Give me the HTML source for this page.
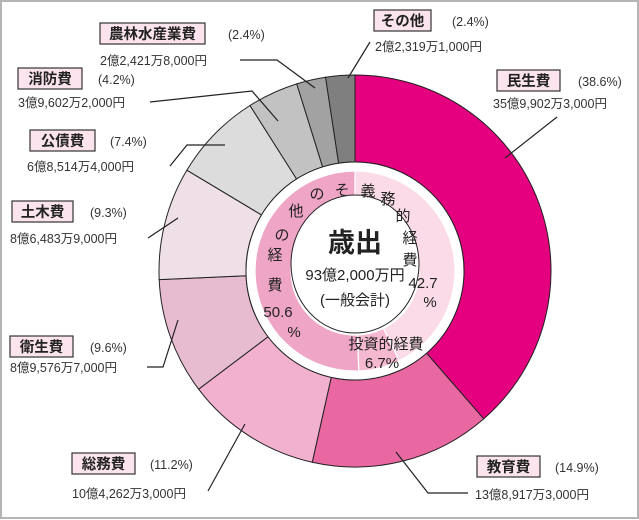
<!DOCTYPE html>
<html><head><meta charset="utf-8"><style>
html,body{margin:0;padding:0;background:#fff}
svg{display:block;font-family:"Liberation Sans","Noto Sans CJK JP",sans-serif}
</style></head><body>
<svg id="chart" width="639" height="520" viewBox="0 0 639 520">
<rect x="1" y="1" width="637" height="517" fill="#fff" stroke="#b5b5b5" stroke-width="2"/>
<g id="outer"></g>
<circle cx="355" cy="271" r="109" fill="#fff" stroke="#222" stroke-width="1"/>
<g id="inner"></g>
<ellipse cx="355" cy="264" rx="64" ry="69" fill="#fff" stroke="#222" stroke-width="1"/>
<g id="leaders" stroke="#222" stroke-width="1.2" fill="none"></g>
<g id="labels"></g>
<g text-anchor="middle">
<text x="355" y="252" font-size="27" font-weight="bold" fill="#222">歳出</text>
<text x="355" y="280" font-size="15" fill="#222">93億2,000万円</text>
<text x="355" y="305" font-size="15" fill="#222">(一般会計)</text>
</g>
<g font-size="15" fill="#222" text-anchor="middle">
<text x="368" y="196">義</text><text x="388" y="204">務</text><text x="403" y="221">的</text><text x="410" y="243">経</text><text x="410" y="265">費</text><text x="423" y="288">42.7</text><text x="430" y="307">%</text>
<text x="342" y="195">そ</text><text x="317" y="199">の</text><text x="296" y="216">他</text><text x="282" y="240">の</text><text x="275" y="260">経</text><text x="275" y="290">費</text><text x="278" y="317">50.6</text><text x="294" y="337">%</text>
<text x="386" y="349">投資的経費</text><text x="382" y="368">6.7%</text>
</g>
<script>
const categories=["民生費","教育費","総務費","衛生費","土木費","公債費","消防費","農林水産業費","その他"];
const percents=[38.6,14.9,11.2,9.6,9.3,7.4,4.2,2.4,2.4];
const amounts=["35億9,902万3,000円","13億8,917万3,000円","10億4,262万3,000円","8億9,576万7,000円","8億6,483万9,000円","6億8,514万4,000円","3億9,602万2,000円","2億2,421万8,000円","2億2,319万1,000円"];
const innerCats=["義務的経費","投資的経費","その他の経費"];
const innerPercents=[42.7,6.7,50.6];
const colors=["#e4007f","#ea68a2","#f2b1cf","#e7bbd0","#efdfe6","#dcdcdc","#c2c2c2","#a2a2a2","#7f7f7f"];
const innerColors=["#fadbe7","#f4b8d1","#efa5c5"];
const layout=[
 [497,70,63,578,493,108,[[557,117],[505,158]]],
 [477,456,63,555,475,499,[[468,493],[428,493],[396,452]]],
 [72,453,63,150,72,498,[[208,491],[245,424]]],
 [10,336,63,90,10,372,[[147,367],[163,367],[178,320]]],
 [12,201,61,90,10,243,[[148,238],[178,218]]],
 [30,130,65,110,27,171,[[170,166],[187,145],[225,145]]],
 [18,68,64,98,18,107,[[150,102],[252,91],[278,121]]],
 [100,23,105,228,100,65,[[240,60],[277,60],[315,88]]],
 [374,10,57,452,375,51,[[370,42],[348,78]]]
];
const NS="http://www.w3.org/2000/svg";
const cx=355,cy=271;
function polar(r,a){return [cx+r*Math.sin(a),cy-r*Math.cos(a)];}
function arcPath(r0,r1,a0,a1){
 const p0=polar(r1,a0),p1=polar(r1,a1),p2=polar(r0,a1),p3=polar(r0,a0);
 const lg=(a1-a0)>Math.PI?1:0;
 return `M${p0[0]},${p0[1]}A${r1},${r1} 0 ${lg} 1 ${p1[0]},${p1[1]}L${p2[0]},${p2[1]}A${r0},${r0} 0 ${lg} 0 ${p3[0]},${p3[1]}Z`;
}
function angleScale(v,total){return v/total*2*Math.PI;}
const outer=document.getElementById('outer');
let tot=percents.reduce((a,b)=>a+b,0),acc=0;
percents.forEach((v,i)=>{
 const a0=angleScale(acc,tot);acc+=v;const a1=angleScale(acc,tot);
 const p=document.createElementNS(NS,'path');
 p.setAttribute('d',arcPath(109,196,a0,a1));
 p.setAttribute('fill',colors[i]);p.setAttribute('stroke','#222');p.setAttribute('stroke-width','1');
 
 
 outer.appendChild(p);
});
const inner=document.getElementById('inner');
let itot=innerPercents.reduce((a,b)=>a+b,0);acc=0;
innerPercents.forEach((v,i)=>{
 const a0=angleScale(acc,itot);acc+=v;const a1=angleScale(acc,itot);
 const p=document.createElementNS(NS,'path');
 p.setAttribute('d',arcPath(64,100,a0,a1));
 p.setAttribute('fill',innerColors[i]);p.setAttribute('stroke','#fff');p.setAttribute('stroke-width','1.2');
 
 
 inner.appendChild(p);
});
function mk(tag,attrs,parent,txt){
 const e=document.createElementNS(NS,tag);
 for(const k in attrs)e.setAttribute(k,attrs[k]);
 if(txt!==undefined)e.textContent=txt;
 parent.appendChild(e);return e;
}
const leaders=document.getElementById('leaders'),labels=document.getElementById('labels');
categories.forEach((c,i)=>{
 const L=layout[i];
 const pl=mk('polyline',{points:L[6].map(p=>p.join(',')).join(' ')},leaders);
 
 
 const g=mk('g',{},labels);
 
 
 mk('rect',{x:L[0],y:L[1],width:L[2],height:21,fill:'#fbe4ed',stroke:'#333','stroke-width':1.2},g);
 mk('text',{x:L[0]+L[2]/2,y:L[1]+16,'text-anchor':'middle','font-size':14.5,'font-weight':'bold',fill:'#222'},g,c);
 mk('text',{x:L[3],y:L[1]+16,'font-size':12.5,fill:'#333'},g,'('+percents[i]+'%)');
 mk('text',{x:L[4],y:L[5],'font-size':12.5,fill:'#333'},g,amounts[i]);
});
</script>
</svg>
</body></html>
